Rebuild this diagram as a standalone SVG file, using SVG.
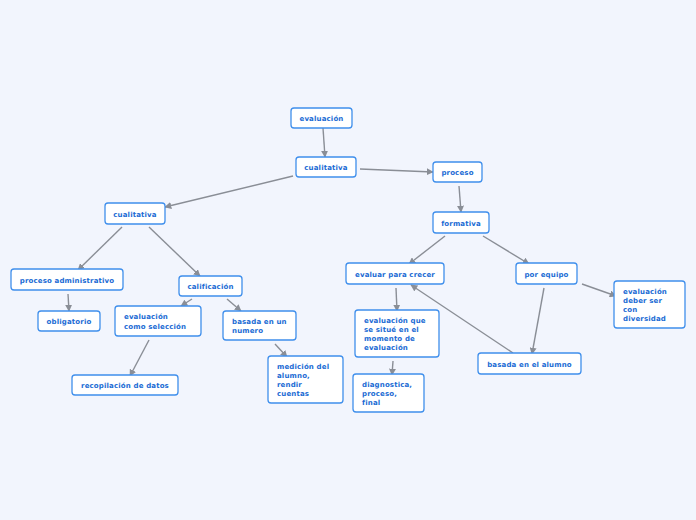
<svg xmlns="http://www.w3.org/2000/svg" width="696" height="520" viewBox="0 0 696 520">
<defs>
<marker id="ah" viewBox="0 0 10 10" refX="9" refY="5" markerWidth="7" markerHeight="7" markerUnits="userSpaceOnUse" orient="auto">
<path d="M0,0 L10,5 L0,10 z" fill="#8a8e96"/>
</marker>
<style>
.n rect{fill:#fff;stroke:#3f8fec;stroke-width:1.3}
.n text{font-family:"DejaVu Sans",Verdana,sans-serif;font-weight:bold;font-size:7px;letter-spacing:0.15px;fill:#1a6bd4}
.c{text-anchor:middle}
#edges path{fill:none;stroke:#8a8e96;stroke-width:1.4;marker-end:url(#ah)}
</style>
</defs>
<rect width="696" height="520" fill="#f2f5fd"/>
<g id="edges">
<path d="M323,128 L325,157"/>
<path d="M360,169 L433,172"/>
<path d="M459,186 L461,212"/>
<path d="M293,176 L165,207"/>
<path d="M445,236 L409,264"/>
<path d="M483,236 L529,264"/>
<path d="M122,227 L78,270"/>
<path d="M149,227 L200,276"/>
<path d="M68,294 L69,311"/>
<path d="M192,299 L181,306"/>
<path d="M227,299 L241,311"/>
<path d="M149,340 L130,376"/>
<path d="M275,344 L287,357"/>
<path d="M396,288 L397,311"/>
<path d="M393,361 L392,375"/>
<path d="M582,284 L616,296"/>
<path d="M544,288 L532,354"/>
<path d="M513,353 L411,285"/>
</g>
<g id="n1" class="n"><rect x="291" y="108" width="61" height="20" rx="3"/><text class="c" x="321.5" y="121">evaluación</text></g>
<g id="n2" class="n"><rect x="296" y="157" width="60" height="20" rx="3"/><text class="c" x="326" y="170">cualitativa</text></g>
<g id="n3" class="n"><rect x="433" y="162" width="49" height="20" rx="3"/><text class="c" x="457.5" y="175">proceso</text></g>
<g id="n4" class="n"><rect x="433" y="212" width="56" height="21" rx="3"/><text class="c" x="461" y="225.5">formativa</text></g>
<g id="n5" class="n"><rect x="105" y="203" width="60" height="21" rx="3"/><text class="c" x="135" y="216.5">cualitativa</text></g>
<g id="n6" class="n"><rect x="11" y="269" width="112" height="21" rx="3"/><text class="c" x="67" y="282.5">proceso administrativo</text></g>
<g id="n7" class="n"><rect x="179" y="276" width="63" height="20" rx="3"/><text class="c" x="210.5" y="289">calificación</text></g>
<g id="n8" class="n"><rect x="38" y="311" width="62" height="20" rx="3"/><text class="c" x="69" y="324">obligatorio</text></g>
<g id="n9" class="n"><rect x="115" y="306" width="86" height="30" rx="3"/><text x="124" y="319">evaluación</text><text x="124" y="328.5">como selección</text></g>
<g id="n10" class="n"><rect x="223" y="311" width="73" height="29" rx="3"/><text x="232" y="324">basada en un</text><text x="232" y="333">numero</text></g>
<g id="n11" class="n"><rect x="72" y="375" width="106" height="20" rx="3"/><text class="c" x="125" y="388">recopilación de datos</text></g>
<g id="n12" class="n"><rect x="268" y="356" width="75" height="47" rx="3"/><text x="277" y="368.5">medición del</text><text x="277" y="377.5">alumno,</text><text x="277" y="386.5">rendir</text><text x="277" y="395.5">cuentas</text></g>
<g id="n13" class="n"><rect x="346" y="263" width="98" height="21" rx="3"/><text class="c" x="395" y="276.5">evaluar para crecer</text></g>
<g id="n14" class="n"><rect x="516" y="263" width="61" height="21" rx="3"/><text class="c" x="546.5" y="276.5">por equipo</text></g>
<g id="n15" class="n"><rect x="614" y="281" width="71" height="47" rx="3"/><text x="623" y="294">evaluación</text><text x="623" y="303">deber ser</text><text x="623" y="312">con</text><text x="623" y="321">diversidad</text></g>
<g id="n16" class="n"><rect x="355" y="310" width="84" height="47" rx="3"/><text x="364" y="323">evaluación que</text><text x="364" y="332">se situé en el</text><text x="364" y="341">momento de</text><text x="364" y="350">evaluación</text></g>
<g id="n17" class="n"><rect x="353" y="374" width="71" height="38" rx="3"/><text x="362" y="387">diagnostica,</text><text x="362" y="396">proceso,</text><text x="362" y="405">final</text></g>
<g id="n18" class="n"><rect x="478" y="353" width="103" height="21" rx="3"/><text class="c" x="529.5" y="366.5">basada en el alumno</text></g>
</svg>
